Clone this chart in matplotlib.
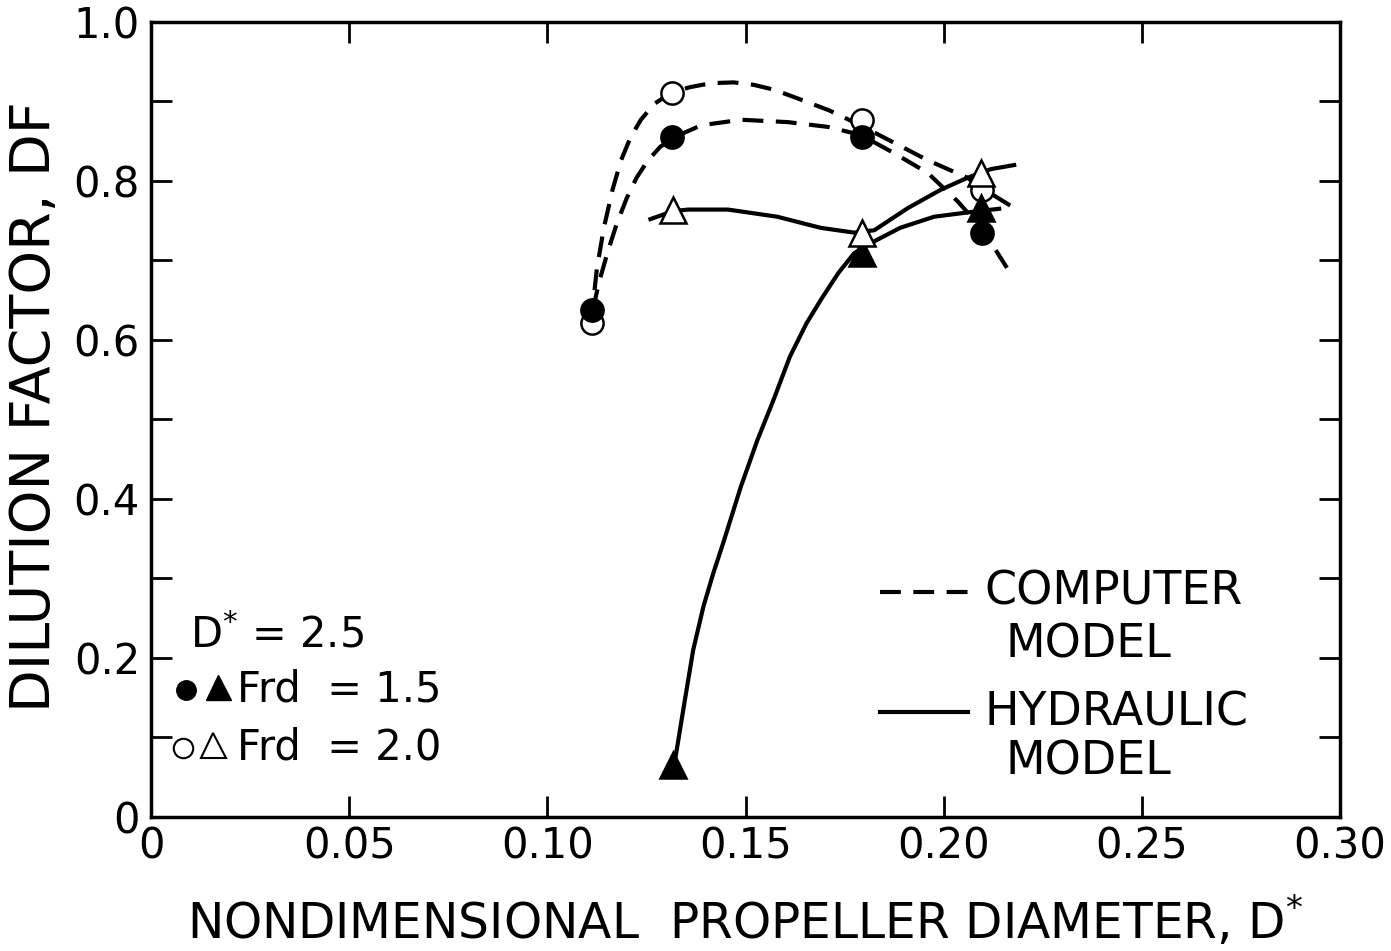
import matplotlib
matplotlib.use("Agg")
import matplotlib.pyplot as plt
from matplotlib.ticker import MultipleLocator, FixedLocator

plt.rcParams['font.family'] = ['DejaVu Sans']

# measured points (D* vs DF)
circ_x = [0.1112, 0.1315, 0.1794, 0.2097]
comp15_df = [0.638, 0.855, 0.855, 0.735]
comp20_df = [0.621, 0.911, 0.877, 0.789]
tri_x = [0.1317, 0.1794, 0.2094]
hyd15_df = [0.065, 0.710, 0.766]
hyd20_df = [0.764, 0.735, 0.810]

# hand-drawn curves
c20_x = [0.111, 0.1125, 0.1143, 0.1165, 0.1186, 0.121, 0.1236, 0.127, 0.1312, 0.136,
         0.1413, 0.147, 0.152, 0.157, 0.162, 0.171, 0.179, 0.1875, 0.196, 0.206, 0.210, 0.2178]
c20_y = [0.621, 0.69, 0.742, 0.79, 0.826, 0.855, 0.877, 0.897, 0.911, 0.918,
         0.923, 0.924, 0.921, 0.915, 0.906, 0.889, 0.870, 0.848, 0.826, 0.804, 0.790, 0.766]
c15_x = [0.1115, 0.113, 0.1153, 0.1175, 0.120, 0.1225, 0.1254, 0.1285, 0.132, 0.1388,
         0.1489, 0.1607, 0.1708, 0.179, 0.1875, 0.196, 0.2036, 0.210, 0.2163]
c15_y = [0.638, 0.672, 0.712, 0.746, 0.778, 0.804, 0.826, 0.843, 0.855, 0.870,
         0.877, 0.874, 0.868, 0.858, 0.835, 0.81, 0.774, 0.738, 0.688]
h20_x = [0.126, 0.1317, 0.1355, 0.1456, 0.158, 0.169, 0.1774, 0.1825, 0.191, 0.1993,
         0.206, 0.212, 0.2178]
h20_y = [0.752, 0.762, 0.764, 0.764, 0.755, 0.741, 0.735, 0.738, 0.766, 0.789,
         0.804, 0.815, 0.820]
h15_x = [0.1320, 0.1327, 0.1343, 0.1368, 0.1394, 0.1419, 0.1444, 0.1488, 0.1530, 0.1571,
         0.1612, 0.1654, 0.1692, 0.1734, 0.1774, 0.1817, 0.189, 0.1976, 0.207, 0.214]
h15_y = [0.065, 0.086, 0.135, 0.21, 0.265, 0.307, 0.345, 0.415, 0.474, 0.525,
         0.579, 0.621, 0.652, 0.684, 0.709, 0.722, 0.741, 0.755, 0.761, 0.765]

x_ticks = [0, 0.05, 0.10, 0.15, 0.20, 0.25, 0.30]
x_ticklabels = ['0', '0.05', '0.10', '0.15', '0.20', '0.25', '0.30']
y_ticks = [0, 0.2, 0.4, 0.6, 0.8, 1.0]
y_ticklabels = ['0', '0.2', '0.4', '0.6', '0.8', '1.0']

fig = plt.figure(figsize=(13.91, 9.51), dpi=100)
ax = fig.add_axes([0.1086, 0.141, 0.8547, 0.8359])

dash = (0, (5, 3))
lw = 3
ax.plot(c20_x, c20_y, color='black', lw=lw, linestyle=dash, zorder=2)
ax.plot(c15_x, c15_y, color='black', lw=lw, linestyle=dash, zorder=2)
ax.plot(h20_x, h20_y, color='black', lw=lw, zorder=2)
ax.plot(h15_x, h15_y, color='black', lw=lw, zorder=2)

ax.plot(circ_x, comp20_df, 'o', ms=16, mfc='white', mec='black', mew=1.8, zorder=3)
ax.plot(circ_x, comp15_df, 'o', ms=16, mfc='black', mec='black', mew=1.8, zorder=4)
ax.plot(tri_x, hyd15_df, '^', ms=19, mfc='black', mec='black', mew=1.8, zorder=3)
ax.plot(tri_x, hyd20_df, '^', ms=19, mfc='white', mec='black', mew=1.8, zorder=4)

ax.set_xlim(0, 0.30)
ax.set_ylim(0, 1.0)
ax.xaxis.set_major_locator(FixedLocator(x_ticks))
ax.set_xticklabels(x_ticklabels)
ax.yaxis.set_major_locator(FixedLocator(y_ticks))
ax.set_yticklabels(y_ticklabels)
ax.yaxis.set_minor_locator(MultipleLocator(0.1))
ax.tick_params(which='both', direction='in', top=True, right=True,
               length=15, width=2, labelsize=30)
ax.tick_params(axis='x', pad=6)
ax.tick_params(axis='y', pad=8)
for s in ax.spines.values():
    s.set_linewidth(2.5)

ax.set_xlabel('NONDIMENSIONAL  PROPELLER DIAMETER, D$^{*}$', fontsize=35)
ax.xaxis.set_label_coords(0.5, -0.097)
ax.set_ylabel('DILUTION FACTOR, DF', fontsize=40, va='center')
ax.yaxis.set_label_coords(-0.0976, 0.516)

# left key
ax.text(0.0098, 0.229, 'D$^{*}$ = 2.5', fontsize=30, va='center', ha='left')
ax.plot([0.0088], [0.160], 'o', ms=14, mfc='black', mec='black', clip_on=False)
ax.plot([0.0169], [0.163], '^', ms=18, mfc='black', mec='black', clip_on=False)
ax.text(0.0217, 0.160, 'Frd  = 1.5', fontsize=30, va='center', ha='left')
ax.plot([0.0081], [0.087], 'o', ms=14, mfc='white', mec='black', mew=1.5, clip_on=False)
ax.plot([0.0156], [0.090], '^', ms=18, mfc='white', mec='black', mew=1.5, clip_on=False)
ax.text(0.0217, 0.087, 'Frd  = 2.0', fontsize=30, va='center', ha='left')

# right key
ax.plot([0.1839, 0.2062], [0.283, 0.283], color='black', lw=lw, linestyle=dash)
ax.text(0.2104, 0.283, 'COMPUTER', fontsize=33, va='center', ha='left')
ax.text(0.2155, 0.216, 'MODEL', fontsize=33, va='center', ha='left')
ax.plot([0.1839, 0.2062], [0.132, 0.132], color='black', lw=lw)
ax.text(0.2104, 0.131, 'HYDRAULIC', fontsize=33, va='center', ha='left')
ax.text(0.2155, 0.069, 'MODEL', fontsize=33, va='center', ha='left')

fig.savefig('out.png', dpi=100)
